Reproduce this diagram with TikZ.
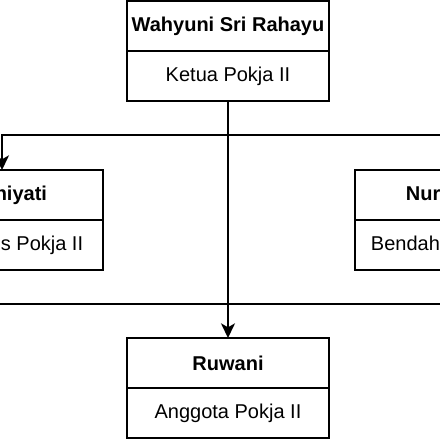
\documentclass[tikz,border=0pt]{standalone}
\usepackage{fontspec}
\setmainfont{Liberation Sans}
\usetikzlibrary{positioning,arrows.meta}

\begin{document}
\begin{tikzpicture}[x=0.75pt, y=-0.75pt,
  namebox/.style={draw, line width=1.3pt, outer sep=0pt, inner sep=0pt,
    minimum width=151.5pt, minimum height=37.5pt, fill=white,
    font=\fontsize{15}{18}\selectfont\bfseries},
  rolebox/.style={namebox, font=\fontsize{15}{18}\selectfont},
  edge/.style={line width=1.3pt},
  arr/.style={edge, -{Stealth[length=11pt, width=10.5pt, inset=3pt]}}]
\fill[white] (0,0) rectangle (440,440);
\useasboundingbox (0,0) rectangle (440,440);
% boxes
\node[namebox] (wahyuni) at (228,26) {Wahyuni Sri Rahayu};
\node[rolebox, below=0pt of wahyuni] (ketua) {Ketua Pokja II};
\node[namebox] (kusniyati) at (2,195) {Kusniyati};
\node[rolebox, below=0pt of kusniyati] (sekretaris) {Sekretaris Pokja II};
\node[namebox] (nur) at (456,195) {Nur Hayati};
\node[rolebox, below=0pt of nur] (bendahara) {Bendahara Pokja II};
\node[namebox] (ruwani) at (228,363) {Ruwani};
\node[rolebox, below=0pt of ruwani] (anggota) {Anggota Pokja II};
% connectors
\coordinate (offl) at (-20,304);
\coordinate (offr) at (460,304);
\draw[arr] (ketua.south) -- (ruwani.north);
\draw[arr] (ketua.south) -- ++(0,34) -| (kusniyati.north);
\draw[arr] (ketua.south) -- ++(0,34) -| (nur.north);
\draw[edge] (ketua.south) |- (offl);
\draw[edge] (ketua.south) |- (offr);
\end{tikzpicture}
\end{document}
